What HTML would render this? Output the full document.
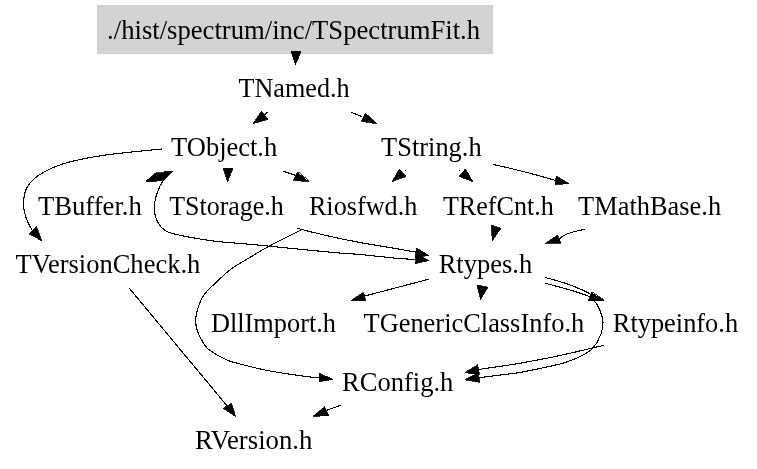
<!DOCTYPE html>
<html><head><meta charset="utf-8"><style>
html,body{margin:0;padding:0;background:#fff;width:757px;height:469px;overflow:hidden}
svg{display:block;will-change:transform}
text{font-family:"Liberation Serif",serif;font-size:26.67px;fill:#000}
.e{fill:none;stroke:#000;stroke-width:1.1}
.a{fill:#000;stroke:#000;stroke-width:0.8;stroke-linejoin:miter;stroke-miterlimit:2}
</style></head><body>
<svg width="757" height="469" viewBox="0 0 757 469">
<rect x="97" y="5" width="396" height="49" fill="#d3d3d3"/>
<rect x="97.5" y="5.5" width="395" height="48" fill="none" stroke="#cfcfcf" stroke-width="1"/>
<text x="107.1" y="39" textLength="373.0" lengthAdjust="spacingAndGlyphs">./hist/spectrum/inc/TSpectrumFit.h</text>
<text x="238.5" y="97" textLength="111.1" lengthAdjust="spacingAndGlyphs">TNamed.h</text>
<text x="171.1" y="156" textLength="106.1" lengthAdjust="spacingAndGlyphs">TObject.h</text>
<text x="381.1" y="156" textLength="100.5" lengthAdjust="spacingAndGlyphs">TString.h</text>
<text x="37.9" y="215" textLength="103.9" lengthAdjust="spacingAndGlyphs">TBuffer.h</text>
<text x="169.2" y="215" textLength="114.6" lengthAdjust="spacingAndGlyphs">TStorage.h</text>
<text x="308.9" y="215" textLength="108.4" lengthAdjust="spacingAndGlyphs">Riosfwd.h</text>
<text x="442.9" y="215" textLength="111.0" lengthAdjust="spacingAndGlyphs">TRefCnt.h</text>
<text x="578.1" y="215" textLength="143.0" lengthAdjust="spacingAndGlyphs">TMathBase.h</text>
<text x="15.5" y="273" textLength="184.8" lengthAdjust="spacingAndGlyphs">TVersionCheck.h</text>
<text x="438.7" y="273" textLength="93.5" lengthAdjust="spacingAndGlyphs">Rtypes.h</text>
<text x="210.9" y="332" textLength="125.1" lengthAdjust="spacingAndGlyphs">DllImport.h</text>
<text x="363.5" y="332" textLength="220.7" lengthAdjust="spacingAndGlyphs">TGenericClassInfo.h</text>
<text x="612.8" y="332" textLength="125.3" lengthAdjust="spacingAndGlyphs">Rtypeinfo.h</text>
<text x="342.0" y="391" textLength="111.4" lengthAdjust="spacingAndGlyphs">RConfig.h</text>
<text x="195.0" y="449" textLength="117.3" lengthAdjust="spacingAndGlyphs">RVersion.h</text>

<g shape-rendering="crispEdges">
<path class="e" d="M267.7,112.2 L262.0,117.0"/>
<path class="e" d="M351.1,112.2 L362.1,116.7"/>
<path class="e" d="M161.6,149.0 C152.1,150.0 120.7,152.8 104.5,155.2 C88.3,157.6 75.0,160.2 64.2,163.5 C53.4,166.8 45.8,170.8 39.6,174.7 C33.5,178.6 30.0,182.3 27.3,187.0 C24.6,191.7 23.7,197.5 23.5,202.7 C23.3,207.9 24.8,213.8 26.2,218.3 C27.6,222.8 30.3,226.9 31.8,229.5 C33.3,232.1 34.5,233.2 35.0,234.0"/>
<path class="e" d="M283.1,171.3 L295.6,175.3"/>
<path class="e" d="M167.3,176.1 C166.5,177.1 163.9,179.3 162.2,182.1 C160.5,184.9 158.4,189.4 157.1,193.1 C155.8,196.8 154.8,200.3 154.5,204.2 C154.2,208.0 154.4,212.5 155.4,216.2 C156.4,219.9 158.2,223.7 160.5,226.4 C162.8,229.1 163.9,230.6 169.0,232.4 C174.1,234.2 182.7,235.9 191.2,237.5 C199.7,239.1 210.2,240.7 220.0,241.8 C229.8,242.9 231.7,242.6 250.0,244.3 C268.3,246.0 311.7,250.5 330.0,252.2 C348.3,253.9 348.3,253.4 360.0,254.5 C371.7,255.6 390.7,257.8 400.0,258.6 C409.3,259.4 413.3,259.1 416.0,259.2"/>
<path class="e" d="M297.0,228.2 C297.8,228.4 296.3,228.1 301.8,229.5 C307.3,230.9 320.3,234.2 330.0,236.4 C339.7,238.6 348.3,240.3 360.0,242.5 C371.7,244.7 390.7,247.7 400.0,249.3 C409.3,250.9 413.3,251.7 416.0,252.2"/>
<path class="e" d="M301.8,229.5 C296.4,232.2 277.6,241.7 269.6,245.9 C261.6,250.2 260.4,251.1 254.0,255.0 C247.6,258.9 236.9,264.9 231.0,269.1 C225.1,273.3 223.2,275.8 218.7,280.0 C214.2,284.2 207.6,289.9 204.2,294.5 C200.8,299.1 199.6,303.2 198.2,307.3 C196.8,311.4 195.8,315.2 195.7,319.2 C195.6,323.2 195.8,326.8 197.4,331.2 C199.0,335.6 202.7,342.3 205.1,345.7 C207.5,349.1 208.8,349.6 211.9,351.7 C215.0,353.8 220.2,356.7 223.8,358.5 C227.4,360.3 226.7,360.4 233.6,362.3 C240.5,364.2 255.6,368.0 265.0,370.0 C274.4,372.0 282.1,373.0 290.0,374.2 C297.9,375.4 307.1,376.6 312.1,377.2 C317.1,377.8 318.7,377.9 320.0,378.0"/>
<path class="e" d="M404.7,171.3 L406.0,170.0"/>
<path class="e" d="M460.1,171.3 L459.0,170.0"/>
<path class="e" d="M492.9,164.4 C497.4,165.4 511.3,168.5 520.0,170.7 C528.7,172.9 538.8,175.7 545.0,177.4 C551.2,179.1 555.0,180.4 557.0,181.0"/>
<path class="e" d="M584.6,229.3 C582.6,229.8 576.1,231.0 572.4,232.2 C568.7,233.3 564.7,235.0 562.5,236.2 C560.3,237.4 559.6,238.9 559.0,239.5"/>
<path class="e" d="M428.8,279.2 L364.0,296.2"/>
<path class="e" d="M545.0,277.4 C548.6,278.4 560.4,281.6 566.7,283.7 C573.0,285.8 578.4,288.2 582.6,290.1 C586.8,292.0 590.4,294.2 592.0,295.0"/>
<path class="e" d="M545.0,283.2 C548.6,284.2 559.6,286.9 566.7,289.0 C573.8,291.1 583.2,294.0 587.8,295.9 C592.4,297.8 592.2,298.2 594.2,300.6 C596.2,303.0 598.5,306.7 600.0,310.3 C601.5,313.9 602.9,318.3 603.0,322.3 C603.1,326.3 602.5,329.9 600.9,334.2 C599.3,338.4 596.3,344.2 593.2,347.8 C590.1,351.4 586.0,353.4 582.2,355.5 C578.4,357.6 573.9,359.2 570.2,360.6 C566.5,362.0 566.7,362.4 560.0,364.0 C553.3,365.6 537.5,369.0 530.0,370.5 C522.5,372.0 523.7,372.0 515.0,373.2 C506.3,374.4 484.2,377.0 478.0,377.8"/>
<path class="e" d="M604.0,345.3 C596.7,347.0 572.3,352.8 560.0,355.5 C547.7,358.2 537.5,360.0 530.0,361.4 C522.5,362.8 523.7,362.7 515.0,364.1 C506.3,365.5 484.2,368.7 478.0,369.6"/>
<path class="e" d="M129.3,288.2 L228.0,407.0"/>
<path class="e" d="M340.8,405.2 L326.7,410.3"/>
<polygon class="a" points="291.0,51.3 301.0,51.3 295.5,64.7"/>
<polygon class="a" points="253.0,123.7 261.5,111.1 267.9,119.4"/>
<polygon class="a" points="377.0,123.7 365.3,113.0 361.3,121.3"/>
<polygon class="a" points="41.8,240.8 28.8,233.8 36.6,226.6"/>
<polygon class="a" points="223.1,168.0 233.0,168.0 227.5,181.8"/>
<polygon class="a" points="308.9,181.6 297.5,172.1 293.2,180.4"/>
<polygon class="a" points="145.6,181.5 156.2,172.5 164.1,172.5 164.1,171.3 172.6,171.3 163.2,180.3 153.0,181.5"/>
<polygon class="a" points="428.8,260.5 416.0,253.5 415.4,263.7"/>
<polygon class="a" points="428.8,255.4 416.3,248.0 415.2,257.5"/>
<polygon class="a" points="332.9,379.4 319.0,373.1 319.0,381.6"/>
<polygon class="a" points="392.2,181.6 399.4,168.9 405.9,176.5"/>
<polygon class="a" points="472.7,181.6 465.5,168.9 459.1,176.4"/>
<polygon class="a" points="568.8,183.5 556.3,176.0 555.2,184.6"/>
<polygon class="a" points="491.3,225.1 500.9,228.3 492.3,240.5"/>
<polygon class="a" points="545.3,243.5 557.5,235.2 560.8,243.3"/>
<polygon class="a" points="350.9,300.6 363.4,292.2 365.8,300.6"/>
<polygon class="a" points="477.2,285.1 487.9,287.2 480.5,299.7"/>
<polygon class="a" points="604.2,300.6 591.5,292.2 588.4,300.6"/>
<polygon class="a" points="464.8,379.8 478.0,373.2 479.8,382.4"/>
<polygon class="a" points="464.8,372.6 477.6,364.8 479.4,374.6"/>
<polygon class="a" points="235.6,416.4 231.4,403.2 223.3,408.4"/>
<polygon class="a" points="313.0,416.4 324.5,406.8 329.0,415.5"/>
</g>
</svg>
</body></html>
